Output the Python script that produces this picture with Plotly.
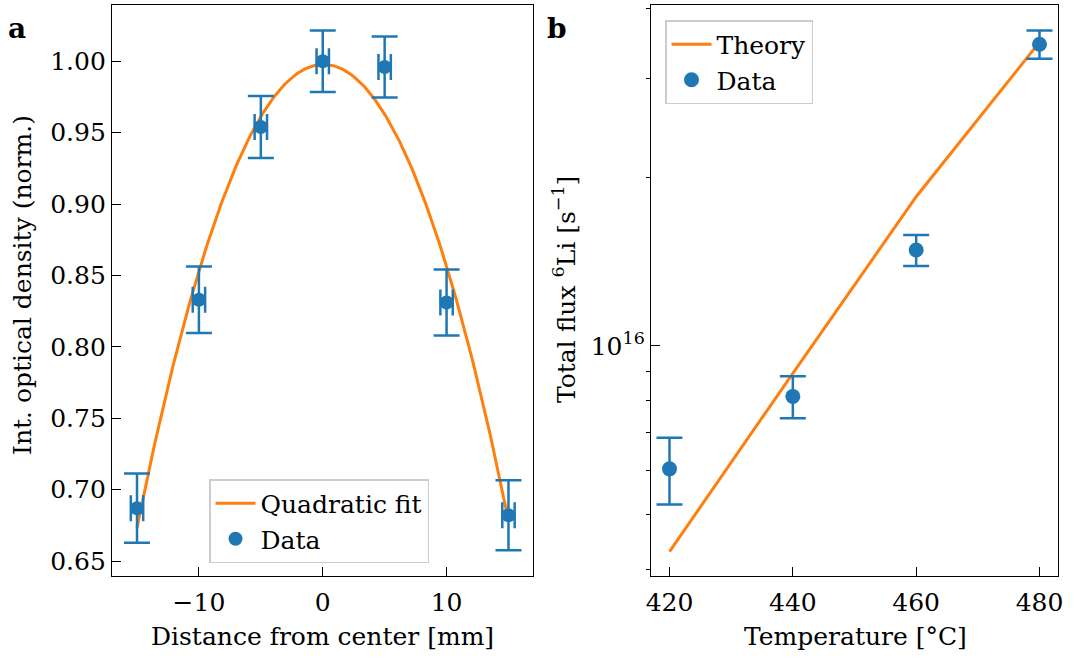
import numpy as np
import plotly.graph_objects as go

# ---- Panel a data ----
dist_mm = [-15, -10, -5, 0, 5, 10, 15]
od_norm = [0.687, 0.833, 0.954, 1.000, 0.996, 0.831, 0.682]
od_err = [0.0242, 0.0233, 0.0217, 0.0216, 0.0214, 0.0231, 0.0245]
dist_err = 0.5

# ---- Panel b data ----
temp_c = [420, 440, 460, 480]
flux = [6.04e15, 8.13e15, 1.483e16, 3.45e16]
flux_err = [0.82e15, 0.70e15, 0.094e16, 0.20e16]
theory_flux = [4.30e15, 8.94e15, 1.845e16, 3.48e16]

# quadratic fit of panel a data
coef = np.polyfit(dist_mm, od_norm, 2)
fit_x = np.linspace(min(dist_mm), max(dist_mm), 200)
fit_y = np.polyval(coef, fit_x)

BLUE = "#1f77b4"
ORANGE = "#ff7f0e"
FONT = "DejaVu Serif"
FS = 25

fig = go.Figure()
fig.add_trace(go.Scatter(x=fit_x, y=fit_y, mode="lines", name="Quadratic fit",
                         line=dict(color=ORANGE, width=3), xaxis="x", yaxis="y",
                         legend="legend"))
fig.add_trace(go.Scatter(x=dist_mm, y=od_norm, mode="markers", name="Data",
                         marker=dict(color=BLUE, size=14),
                         error_y=dict(type="data", array=od_err, color=BLUE, thickness=2.5, width=13),
                         error_x=dict(type="constant", value=dist_err, color=BLUE, thickness=2.5, width=13),
                         xaxis="x", yaxis="y", legend="legend"))
fig.add_trace(go.Scatter(x=temp_c, y=theory_flux, mode="lines", name="Theory",
                         line=dict(color=ORANGE, width=3), xaxis="x2", yaxis="y2",
                         legend="legend2"))
fig.add_trace(go.Scatter(x=temp_c, y=flux, mode="markers", name="Data",
                         marker=dict(color=BLUE, size=15),
                         error_y=dict(type="data", array=flux_err, color=BLUE, thickness=2.5, width=13),
                         xaxis="x2", yaxis="y2", legend="legend2"))

ax_common = dict(showline=True, linecolor="black", linewidth=1.4, mirror=True,
                 showgrid=False, zeroline=False, tickcolor="black", automargin=False,
                 tickfont=dict(family=FONT, size=FS, color="black"))

ydom = [1 - 576 / 659, 1 - 5 / 659]
fig.update_layout(
    width=1075, height=659,
    margin=dict(l=0, r=0, t=0, b=0, autoexpand=False),
    paper_bgcolor="white", plot_bgcolor="white",
    font=dict(family=FONT, size=FS, color="black"),
    xaxis=dict(domain=[112 / 1075, 533 / 1075], range=[-17.02, 16.98],
               tickvals=[-10, 0, 10], ticks="inside", ticklen=9, tickwidth=1.4,
               ticklabelstandoff=4, anchor="y", **ax_common),
    yaxis=dict(domain=ydom, range=[0.6395, 1.0394], tickvals=[0.65, 0.70, 0.75, 0.80, 0.85, 0.90, 0.95, 1.00],
               tickformat=".2f", ticks="inside", ticklen=9, tickwidth=1.4, anchor="x", **ax_common),
    xaxis2=dict(domain=[651 / 1075, 1058 / 1075], range=[417, 483],
                tickvals=[420, 440, 460, 480], ticks="inside", ticklen=9, tickwidth=1.4,
                ticklabelstandoff=4, anchor="y2", **ax_common),
    yaxis2=dict(domain=ydom, type="log", range=[15.590, 16.6078],
                tickvals=[1e16], ticktext=["10<sup>16</sup>"], ticks="inside", ticklen=9, tickwidth=1.4,
                minor=dict(tickmode="array", tickvals=[4e15, 5e15, 6e15, 7e15, 8e15, 9e15, 2e16, 3e16, 4e16],
                           ticks="outside", ticklen=4, tickwidth=1.2, tickcolor="black"),
                anchor="x2", **ax_common),
    legend=dict(x=209 / 1075, y=1 - 479 / 659, xanchor="left", yanchor="top",
                bgcolor="rgba(255,255,255,0.8)", bordercolor="#cccccc", borderwidth=1.5,
                font=dict(family=FONT, size=FS), tracegroupgap=0, itemwidth=40),
    legend2=dict(x=665 / 1075, y=1 - 20 / 659, xanchor="left", yanchor="top",
                 bgcolor="rgba(255,255,255,0.8)", bordercolor="#cccccc", borderwidth=1.5,
                 font=dict(family=FONT, size=FS), tracegroupgap=0, itemwidth=40),
    showlegend=True,
)

annos = [
    dict(text="<b>a</b>", x=17 / 1075, y=1 - 29 / 659, font=dict(size=28)),
    dict(text="<b>b</b>", x=557 / 1075, y=1 - 29 / 659, font=dict(size=28)),
    dict(text="Distance from center [mm]", x=322 / 1075, y=1 - 636 / 659),
    dict(text="Temperature [°C]", x=855 / 1075, y=1 - 636 / 659),
    dict(text="Int. optical density (norm.)", x=22 / 1075, y=1 - 285 / 659, textangle=-90),
    dict(text="Total flux <sup>6</sup>Li [s<sup>−1</sup>]", x=565 / 1075, y=1 - 290 / 659, textangle=-90),
]
for a in annos:
    a.setdefault("font", {})
    a["font"] = dict(family=FONT, size=a["font"].get("size", FS), color="black")
    fig.add_annotation(xref="paper", yref="paper", showarrow=False,
                       xanchor="center", yanchor="middle", **a)

fig.write_html("out.html")
